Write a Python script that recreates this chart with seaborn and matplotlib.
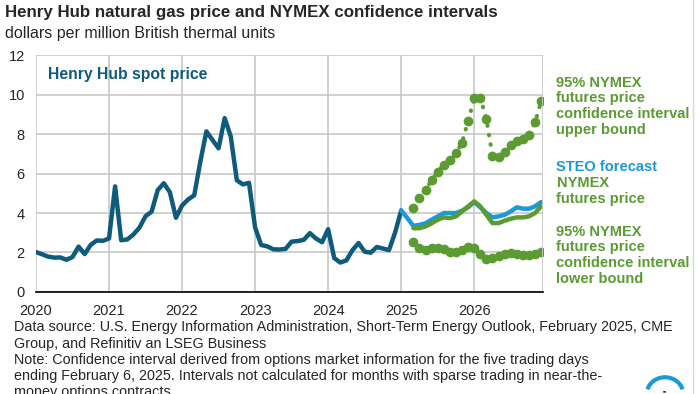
import numpy as np
import pandas as pd
import matplotlib.pyplot as plt
import seaborn as sns
from matplotlib.patches import Arc

# Henry Hub monthly spot price, Jan 2020 - Jan 2025
spot = [2.02, 1.91, 1.79, 1.74, 1.75, 1.63, 1.77, 2.30, 1.92, 2.39, 2.61, 2.59,
        2.71, 5.35, 2.62, 2.66, 2.91, 3.26, 3.84, 4.07, 5.16, 5.51, 5.05, 3.76,
        4.38, 4.69, 4.90, 6.60, 8.14, 7.70, 7.28, 8.81, 7.88, 5.66, 5.45, 5.53,
        3.27, 2.38, 2.31, 2.16, 2.15, 2.18, 2.55, 2.58, 2.64, 2.98, 2.71, 2.52,
        3.18, 1.72, 1.49, 1.60, 2.12, 2.48, 2.04, 1.99, 2.28, 2.20, 2.12, 3.01,
        4.13]

# STEO forecast, Jan 2025 - Dec 2026
steo = [4.13, 3.75, 3.35, 3.40, 3.48, 3.66, 3.83, 4.00, 4.00, 4.00, 4.12, 4.29,
        4.56, 4.29, 4.00, 3.78, 3.83, 3.91, 4.08, 4.29, 4.22, 4.22, 4.34, 4.56]

# NYMEX futures and 95% confidence bounds, Mar 2025 - Dec 2026
nymex = [3.23, 3.23, 3.32, 3.48, 3.66, 3.78, 3.74, 3.83, 4.08, 4.34,
         4.59, 4.34, 3.91, 3.49, 3.49, 3.61, 3.71, 3.78, 3.78, 3.83, 4.00, 4.34]
upper = [4.25, 4.76, 5.19, 5.65, 6.07, 6.45, 6.68, 7.02, 7.57, 8.67,
         9.81, 9.85, 8.76, 6.89, 6.82, 7.09, 7.43, 7.64, 7.77, 7.94, 8.59, 9.69]
lower = [2.55, 2.24, 2.13, 2.21, 2.21, 2.16, 2.04, 2.01, 2.13, 2.30,
         2.24, 1.90, 1.67, 1.73, 1.84, 1.90, 1.95, 1.90, 1.87, 1.87, 1.90, 2.04]

years = [2020, 2021, 2022, 2023, 2024, 2025, 2026]

t_spot = 2020 + np.arange(len(spot)) / 12
t_steo = 2025 + np.arange(len(steo)) / 12
t_fut = 2025 + (2 + np.arange(len(nymex))) / 12

DARK = "#0f5b7c"
BLUE = "#1a9ad6"
GREEN = "#5b9b31"

sns.set_style("white")
plt.rcParams["font.family"] = ["Liberation Sans", "DejaVu Sans"]

fig = plt.figure(figsize=(7, 3.94), dpi=100)
ax = fig.add_axes([0.0514, 0.259, 0.7243, 0.601])

sns.lineplot(x=t_spot, y=spot, ax=ax, color=DARK, linewidth=3.2)
sns.lineplot(x=t_steo, y=steo, ax=ax, color=BLUE, linewidth=3.2)
sns.lineplot(x=t_fut, y=nymex, ax=ax, color=GREEN, linewidth=3.2)
for bound in (upper, lower):
    sns.lineplot(x=t_fut, y=bound, ax=ax, color=GREEN, linewidth=3,
                 linestyle=(0, (0.1, 2.2)), dash_capstyle="round",
                 marker="o", markersize=7, markeredgewidth=0)

ax.set_xlim(2020, 2026 + 11.3 / 12)
ax.set_ylim(0, 12)
ax.set_xticks(years)
ax.set_xticklabels([str(y) for y in years])
ax.set_yticks(range(0, 13, 2))
ax.grid(True, color="#c8c8c8", linewidth=1.2)
ax.set_axisbelow(True)
for s in ("top", "left", "right"):
    ax.spines[s].set_visible(False)
ax.spines["bottom"].set_color("black")
ax.spines["bottom"].set_linewidth(1.2)
ax.axvline(ax.get_xlim()[1], color="#c8c8c8", linewidth=1.2)
ax.tick_params(axis="x", length=5, width=1.2, color="black", direction="out",
               labelsize=10.5, pad=4)
ax.tick_params(axis="y", length=0, labelsize=10.5, pad=8)

ax.text(2020.17, 11.0, "Henry Hub spot price", color=DARK, fontsize=11.3,
        fontweight="bold", va="center")

fig.text(0.007, 0.968, "Henry Hub natural gas price and NYMEX confidence intervals",
         fontsize=12.2, fontweight="bold", va="center")
fig.text(0.007, 0.915, "dollars per million British thermal units",
         fontsize=11.5, va="center")

lab = dict(fontsize=10.5, fontweight="bold", color=GREEN, va="top", linespacing=1.15)
fig.text(0.795, 0.808, "95% NYMEX\nfutures price\nconfidence interval\nupper bound", **lab)
fig.text(0.795, 0.594, "STEO forecast", fontsize=10.5, fontweight="bold", color=BLUE, va="top")
fig.text(0.795, 0.553, "NYMEX\nfutures price", **lab)
fig.text(0.795, 0.430, "95% NYMEX\nfutures price\nconfidence interval\nlower bound", **lab)

foot = ("Data source: U.S. Energy Information Administration, Short-Term Energy Outlook, February 2025, CME\n"
        "Group, and Refinitiv an LSEG Business\n"
        "Note: Confidence interval derived from options market information for the five trading days\n"
        "ending February 6, 2025. Intervals not calculated for months with sparse trading in near-the-\n"
        "money options contracts.")
fig.text(0.02, 0.187, foot, fontsize=10.4, va="top", linespacing=1.2)

# partial EIA logo at the bottom edge
fig.add_artist(Arc((0.950, 0.0), 0.052, 0.085, theta1=25, theta2=155,
                   transform=fig.transFigure, color="#1a9ad6", linewidth=3))
fig.text(0.950, -0.035, "eia", fontsize=13, fontweight="bold", ha="center", va="bottom")

fig.add_artist(plt.Line2D([0.99, 0.99], [0.0, 1.0], color="#d8d8d8", linewidth=1))

fig.savefig("out.png", dpi=100)
